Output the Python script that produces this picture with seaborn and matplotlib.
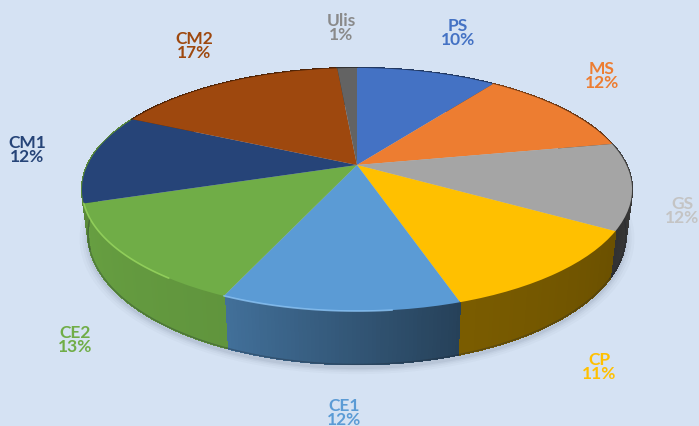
import numpy as np
import matplotlib
matplotlib.use('Agg')
import matplotlib.pyplot as plt
import matplotlib.patches as mpatches
import matplotlib.transforms as mtransforms
from matplotlib.collections import PolyCollection
import seaborn as sns

categories = ['PS', 'MS', 'GS', 'CP', 'CE1', 'CE2', 'CM1', 'CM2', 'Ulis']
shares = [10.0, 12.0, 11.5, 11.5, 11.6, 13.4, 12.0, 16.6, 1.4]
percent_labels = ['10%', '12%', '12%', '11%', '12%', '13%', '12%', '17%', '1%']

slice_colors = ['#4472c4', '#ed7d31', '#a5a5a5', '#ffc000', '#5b9bd5',
                '#70ad47', '#264478', '#9e480e', '#636363']
label_colors = ['#4472c4', '#ed7d31', '#c4c4c4', '#ffc000', '#5b9bd5',
                '#70ad47', '#264478', '#9e480e', '#8a8a8a']
label_x = [458, 602, 682, 599, 344, 75, 27, 194, 341]
label_y = [33, 76, 211, 367, 413, 340, 150, 46, 28]
# side wall brightness at start and end of each slice (clockwise)
wall_shade = [(.5, .5), (.5, .42), (.42, .30), (.42, .48), (.42, .72),
              (.86, .92), (.45, .45), (.5, .5), (.5, .5)]

BG = '#d5e2f3'
K = 0.2016
DEPTH = 42.6


class TiltedDisc(mtransforms.Transform):
    # unit circle -> pixel position of the tilted disc
    input_dims = 2
    output_dims = 2
    is_separable = False

    def __init__(self, drop=0.0, shrink=1.0):
        super().__init__()
        self.drop = drop
        self.shrink = shrink

    def transform_non_affine(self, values):
        values = np.asarray(values)
        w = 1 + K * values[:, 1]
        px = 357 + 269.4 * self.shrink * values[:, 0] / w
        py = 166 - 116.6 * values[:, 1] / w + self.drop / w
        return np.column_stack([px, py])


def rim(a0, a1, n=60):
    t = np.radians(np.linspace(a0, a1, n))
    return np.column_stack([np.sin(t), np.cos(t)])


sns.set_theme(style='white')
plt.rcParams['font.family'] = ['Lato', 'DejaVu Sans']
palette = sns.color_palette(slice_colors)

fig, ax = plt.subplots(figsize=(6.99, 4.27), dpi=100)
fig.patch.set_facecolor(BG)
ax.set_position([0, 0, 1, 1])

top = TiltedDisc()
bottom = TiltedDisc(drop=DEPTH, shrink=0.978)

wedges, _ = ax.pie(shares, colors=palette, startangle=90, counterclock=False,
                   wedgeprops={'linewidth': 0, 'zorder': 5})
for wedge in wedges:
    wedge.set_transform(top + ax.transData)

ax.set_aspect('auto')
ax.set_xlim(0, 699)
ax.set_ylim(427, 0)
ax.axis('off')

# soft shadow under the disc
for grow, alpha in zip([1.03, 1.02, 1.012, 1.005], [.03, .04, .05, .07]):
    shadow = mpatches.Circle((0, 0), grow, facecolor='#3a4a60', edgecolor='none',
                             alpha=alpha, zorder=1,
                             transform=TiltedDisc(drop=DEPTH + 3, shrink=0.978) + ax.transData)
    ax.add_patch(shadow)

edges = np.concatenate([[0], np.cumsum(shares)]) * 3.6
for i, color in enumerate(palette):
    pts = rim(edges[i], edges[i + 1])
    upper = top.transform_non_affine(pts)
    lower = bottom.transform_non_affine(pts)
    shade = np.linspace(wall_shade[i][0], wall_shade[i][1], len(pts) - 1)
    quads = [[upper[j], upper[j + 1], lower[j + 1], lower[j]] for j in range(len(pts) - 1)]
    # the CM1 wall barely shows, it reads as the dark end of the CE2 wall
    base = palette[5] if i == 6 else color
    scale = shade * 0.8 / 0.45 if i == 6 else shade
    cols = [tuple(np.array(base) * s) for s in scale]
    ax.add_collection(PolyCollection(quads, facecolors=cols, edgecolors=cols,
                                     linewidths=0.8, antialiaseds=False, zorder=3),
                      autolim=False)
    ax.plot(lower[:, 0], lower[:, 1], color='#1c2430', alpha=.3, lw=1, zorder=3.5)

# light edge along the front rim
for i, tint in zip([4, 5], ['#8cc4f5', '#9ad860']):
    pts = top.transform_non_affine(rim(edges[i] + 12, edges[i + 1]))
    ax.plot(pts[:, 0], pts[:, 1], color=tint, alpha=.8, lw=1.2, zorder=6)

for name, pct, x, y, col in zip(categories, percent_labels, label_x, label_y, label_colors):
    ax.text(x, y, f'{name}\n{pct}', color=col, fontsize=12.5, fontweight='bold',
            ha='center', va='center', linespacing=0.8, zorder=8)

fig.savefig('out.png', dpi=100, facecolor=BG)
